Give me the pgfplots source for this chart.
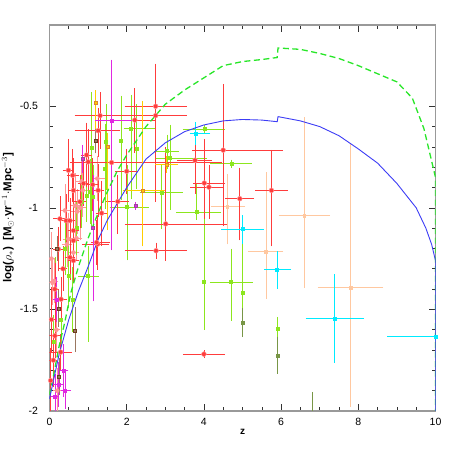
\documentclass[border=0pt]{standalone}
\usepackage{pgfplots}
\pgfplotsset{compat=1.18}
\usepackage{pgfplotstable}
\usepackage{fontspec}
\setmainfont{Liberation Sans}

\definecolor{cred}{RGB}{255,60,60}
\definecolor{cpred}{RGB}{255,150,150}
\definecolor{cgreen}{RGB}{140,230,30}
\definecolor{colive}{RGB}{120,150,70}
\definecolor{ccyan}{RGB}{0,235,255}
\definecolor{cpeach}{RGB}{255,200,160}
\definecolor{cmag}{RGB}{225,40,225}
\definecolor{cbrown}{RGB}{110,60,30}
\definecolor{cyel}{RGB}{255,205,0}
\definecolor{cpurp}{RGB}{150,80,150}
\definecolor{corange}{RGB}{220,130,50}
\definecolor{cblue}{RGB}{60,60,245}
\definecolor{cdash}{RGB}{40,230,40}

% points with x and y errors: x y xm xp ym yp
\pgfplotstableread{
x y xm xp ym yp
2.75 -0.50 0.75 0.76 0.20 0.20
2.75 -0.546 0.75 0.76 0.414 0.086
1.31 -0.546 0.61 0.60 0.154 0.106
1.26 -0.62 0.56 0.52 0.12 0.10
2.21 -0.568 0.23 0.49 0.152 0.148
3.77 -0.766 0.42 0.39 0.154 0.146
4.01 -0.878 0.24 0.49 0.167 0.205
4.13 -0.898 0.43 0.31 0.147 0.098
4.93 -0.955 0.33 0.32 0.195 0.143
5.75 -0.914 0.37 0.37 0.266 0.19
4.5 -0.716 0.75 1.5 0.364 0.316
1.61 -0.777 0.56 2.8 0.173 0.177
1.77 -0.969 0.25 0.23 0.151 0.119
3.01 -1.079 1.01 1.54 0.171 0.369
2.76 -1.211 0.76 0.75 0.03 0.03
1.25 -1.178 0.35 0.25 0.116 0.128
4.0 -1.72 0.49 0.5 0.01 0.01
1.22 -1.17 0.09 0.30 0.1 0.1
0.43 -1.063 0.14 0.14 0.12 0.12
0.29 -1.71 0.28 0.24 0.08 0.08
1.0 -0.774 0.43 0.4 0.15 0.15
0.49 -0.815 0.09 0.09 0.145 0.145
0.27 -1.054 0.12 0.13 0.1 0.1
2.0 -0.82 0.25 0.25 0.1 0.1
0.14 -1.63 0.09 0.11 0.1 0.1
0.6 -0.84 0.1 0.1 0.12 0.12
0.88 -0.88 0.1 0.1 0.1 0.1
1.12 -0.886 0.1 0.12 0.12 0.12
0.62 -0.914 0.1 0.1 0.1 0.15
0.79 -0.97 0.1 0.1 0.12 0.12
0.96 -0.74 0.1 0.1 0.15 0.15
0.53 -1.063 0.08 0.08 0.1 0.1
0.62 -1.162 0.08 0.08 0.1 0.1
0.62 -1.26 0.1 0.1 0.1 0.1
0.14 -1.40 0.05 0.05 0.12 0.12
0.23 -1.203 0.08 0.08 0.1 0.1
0.53 -1.244 0.08 0.08 0.1 0.1
0.62 -1.112 0.1 0.1 0.1 0.1
1.35 -1.026 0.1 0.1 0.15 0.15
1.26 -0.914 0.1 0.1 0.12 0.12
0.05 -1.55 0.04 0.05 0.15 0.15
0.1 -1.75 0.05 0.05 0.12 0.12
0.03 -1.85 0.03 0.04 0.15 0.15
0.3 -1.45 0.1 0.1 0.1 0.1
0.35 -1.3 0.06 0.06 0.1 0.1
}\redtab

\pgfplotstableread{
x y xm xp ym yp
0.83 -0.87 0.1 0.1 0.1 0.1
0.66 -0.99 0.08 0.08 0.15 0.15
0.72 -1.018 0.1 0.1 0.1 0.1
0.86 -0.914 0.1 0.1 0.12 0.12
0.40 -1.013 0.08 0.08 0.12 0.12
0.62 -1.22 0.1 0.1 0.12 0.12
0.12 -1.36 0.06 0.06 0.1 0.1
0.79 -1.0 0.12 0.12 0.15 0.15
0.70 -1.15 0.1 0.1 0.1 0.1
0.45 -1.18 0.08 0.08 0.1 0.1
0.08 -1.368 0.05 0.05 0.1 0.1
0.49 -1.153 0.08 0.08 0.12 0.12
1.24 -0.856 0.15 0.15 0.1 0.1
0.18 -1.6 0.05 0.05 0.1 0.1
0.05 -1.25 0.04 0.04 0.12 0.12
0.2 -1.9 0.05 0.05 0.1 0.1
}\paleredtab

\pgfplotstableread{
x y xm xp ym yp
4.7 -1.365 0.5 0.51 0.18 0.155
4.72 -0.782 0.52 0.47 0.01 0.01
4.01 -0.612 0.51 0.49 0.01 0.01
3.12 -0.754 0.34 0.91 0.246 0.154
2.11 -0.609 0.14 0.60 0.34 0.157
2.01 -0.997 0.40 0.51 0.252 0.197
2.9 -0.926 0.51 0.5 0.169 0.126
3.81 -1.02 0.47 0.59 0.03 0.13
1.0 -1.335 0.21 0.22 0.315 0.135
3.05 -0.72 0.3 0.25 0.08 0.07
}\greentab

% points with y errors only: x y ym yp
\pgfplotstableread{
x y ym yp
4.0 -1.363 0.227 0.533
5.0 -1.417 0.07 0.23
5.91 -1.596 0.048 0.05
1.85 -0.672 0.28 0.215
2.26 -0.708 0.19 0.21
1.09 -0.705 0.395 0.265
1.44 -0.807 0.19 0.21
1.46 -0.675 0.225 0.175
1.05 -0.92 0.15 0.15
0.96 -0.94 0.12 0.12
0.83 -0.97 0.12 0.12
1.13 -0.947 0.15 0.15
0.14 -1.40 0.15 0.15
0.1 -1.657 0.12 0.12
0.49 -1.335 0.15 0.15
0.3 -1.55 0.12 0.12
0.7 -1.1 0.12 0.12
0.4 -1.2 0.12 0.12
0.6 -1.45 0.15 0.15
}\greenytab

\pgfplotstableread{
x y ym yp
5.0 -1.566 0.061 0.061
5.91 -1.728 0.08 0.084
6.8 -2.1 0.2 0.184
}\olivetab

\pgfplotstableread{
x y xm xp ym yp
7.39 -1.545 0.70 0.71 0.207 0.21
10.0 -1.635 1.2 0.0 0.01 0.01
5.90 -1.305 0.29 0.31 0.083 0.081
5.0 -1.105 0.5 0.51 0.062 0.059
3.79 -0.634 0.11 0.32 0.049 0.046
}\cyantab

\pgfplotstableread{
x y xm xp ym yp
7.80 -1.393 0.8 0.8 0.577 0.703
6.6 -1.038 0.61 0.62 0.347 0.475
5.61 -1.216 0.42 0.40 0.223 0.381
4.60 -0.994 0.36 0.42 0.176 0.151
}\peachtab

\pgfplotstableread{
x y xm xp ym yp
1.61 -0.57 0.39 0.52 0.63 0.29
0.23 -1.87 0.08 0.08 0.1 0.1
0.36 -1.80 0.06 0.08 0.12 0.12
0.14 -1.93 0.05 0.05 0.1 0.1
0.19 -1.45 0.05 0.05 0.1 0.1
0.4 -1.9 0.06 0.1 0.08 0.08
}\magtab

\pgfplotstableread{
x y ym yp
2.23 -0.99 0.01 0.01
1.13 -1.1 0.35 0.25
0.86 -0.76 0.06 0.06
}\magytab

\pgfplotstableread{
x y ym yp
0.66 -1.607 0.093 0.107
0.23 -1.495 0.08 0.08
0.25 -1.83 0.08 0.08
1.2 -0.672 0.05 0.05
0.2 -1.2 0.05 0.05
}\browntab

\pgfplotstableread{
x y xm xp ym yp
2.41 -0.914 0.46 0.54 0.266 0.429
3.03 -0.787 0.25 0.26 0.03 0.03
}\yeltab

\pgfplotstableread{
x y ym yp
1.5 -0.70 0.4 0.06
1.2 -0.485 0.15 0.055
}\yelytab

% model curves
\pgfplotstableread{
z y
0 -1.94
0.25 -1.72
0.5 -1.55
0.75 -1.41
1.0 -1.29
1.25 -1.16
1.5 -1.06
1.75 -0.98
2.0 -0.90
2.5 -0.76
3.0 -0.68
3.5 -0.625
4.0 -0.592
4.5 -0.572
5.0 -0.565
5.5 -0.568
5.9 -0.576
5.92 -0.551
6.5 -0.572
7.0 -0.600
7.5 -0.645
8.0 -0.71
8.5 -0.78
9.0 -0.88
9.5 -1.0
9.75 -1.10
9.9 -1.18
10 -1.26
10 -2.2
}\bluecurve

\pgfplotstableread{
z y
0 -1.92
0.1 -1.83
0.25 -1.68
0.4 -1.56
0.55 -1.42
0.75 -1.29
1.0 -1.15
1.25 -1.03
1.5 -0.92
1.75 -0.82
2.0 -0.74
2.5 -0.60
3.0 -0.49
3.5 -0.42
4.0 -0.36
4.5 -0.30
5.0 -0.28
5.5 -0.27
5.9 -0.26
5.92 -0.213
6.5 -0.22
7.0 -0.24
7.5 -0.265
8.0 -0.30
8.5 -0.34
9.0 -0.38
9.4 -0.46
9.7 -0.61
9.9 -0.77
10 -0.85
10 -2.2
}\greencurve

\pgfplotsset{
  xyerr/.style n args={4}{only marks, mark=#2, mark size=#3,
    mark options={fill=#1, draw=#4, line width=0.5pt},
    error bars/.cd, x dir=both, x explicit, y dir=both, y explicit,
    error bar style={#1, line width=0.7pt},
    error mark options={#1, mark size=2pt, line width=0.7pt}},
  yerr/.style n args={4}{only marks, mark=#2, mark size=#3,
    mark options={fill=#1, draw=#4, line width=0.5pt},
    error bars/.cd, y dir=both, y explicit,
    error bar style={#1, line width=0.7pt},
    error mark options={#1, mark size=2pt, line width=0.7pt}},
}

\begin{document}
\begin{tikzpicture}
\begin{axis}[
    scale only axis,
    width=386pt, height=386pt,
    xmin=0, xmax=10, ymin=-2, ymax=-0.1,
    clip=true,
    axis line style={draw=gray!80, line width=1.6pt},
    tick style={black!80, line width=0.6pt},
    major tick length=7pt, minor tick length=4pt,
    tick pos=both, tick align=inside,
    xtick={0,2,4,6,8,10}, xticklabels={0,2,4,6,8,10},
    minor x tick num=3,
    ytick={-2,-1.5,-1,-0.5}, yticklabels={-2,-1.5,-1,-0.5},
    minor y tick num=4,
    ticklabel style={font=\fontsize{10.5}{12}\selectfont},
    xticklabel style={yshift=-4pt},
    yticklabel style={xshift=-8pt},
    xlabel={\textbf{z}},
    xlabel style={font=\fontsize{10}{12}\selectfont, yshift=4pt},
    ylabel={\textbf{log($\rho_*$)~~[M$_\odot$$\cdot$yr$^{-1}$$\cdot$Mpc$^{-3}$]}},
    ylabel style={font=\fontsize{11.5}{13}\selectfont, yshift=-1pt},
]
\addplot[xyerr={cpeach}{square*}{1.3pt}{cpeach}] table[x=x,y=y,x error minus=xm,x error plus=xp,y error minus=ym,y error plus=yp] {\peachtab};
\addplot[xyerr={cpred}{*}{2pt}{cpred}] table[x=x,y=y,x error minus=xm,x error plus=xp,y error minus=ym,y error plus=yp] {\paleredtab};
\addplot[yerr={cgreen}{square*}{1.5pt}{cgreen}] table[x=x,y=y,y error minus=ym,y error plus=yp] {\greenytab};
\addplot[xyerr={cgreen}{square*}{1.5pt}{cgreen}] table[x=x,y=y,x error minus=xm,x error plus=xp,y error minus=ym,y error plus=yp] {\greentab};
\addplot[yerr={colive}{square*}{1.5pt}{colive}] table[x=x,y=y,y error minus=ym,y error plus=yp] {\olivetab};
\addplot[xyerr={cred}{*}{2.4pt}{cpred}] table[x=x,y=y,x error minus=xm,x error plus=xp,y error minus=ym,y error plus=yp] {\redtab};
\addplot[xyerr={cyel}{square*}{1.5pt}{corange}] table[x=x,y=y,x error minus=xm,x error plus=xp,y error minus=ym,y error plus=yp] {\yeltab};
\addplot[yerr={cyel}{square*}{1.5pt}{corange}] table[x=x,y=y,y error minus=ym,y error plus=yp] {\yelytab};
\addplot[xyerr={cmag}{square*}{1.5pt}{cmag}] table[x=x,y=y,x error minus=xm,x error plus=xp,y error minus=ym,y error plus=yp] {\magtab};
\addplot[yerr={cmag}{square*}{1.5pt}{cpurp}] table[x=x,y=y,y error minus=ym,y error plus=yp] {\magytab};
\addplot[yerr={cbrown!70}{square*}{1.5pt}{cbrown}] table[x=x,y=y,y error minus=ym,y error plus=yp] {\browntab};
\addplot[xyerr={ccyan}{square*}{1.5pt}{ccyan}] table[x=x,y=y,x error minus=xm,x error plus=xp,y error minus=ym,y error plus=yp] {\cyantab};
\addplot[cdash, line width=1.3pt, dash pattern=on 6pt off 3.5pt] table[x=z,y=y] {\greencurve};
\addplot[cblue, line width=0.9pt] table[x=z,y=y] {\bluecurve};
\end{axis}
\pgfresetboundingbox
\path ([shift={(-49.5pt,-49pt)}]current axis.south west) rectangle ([shift={(24.3pt,25pt)}]current axis.north east);
\end{tikzpicture}
\end{document}
